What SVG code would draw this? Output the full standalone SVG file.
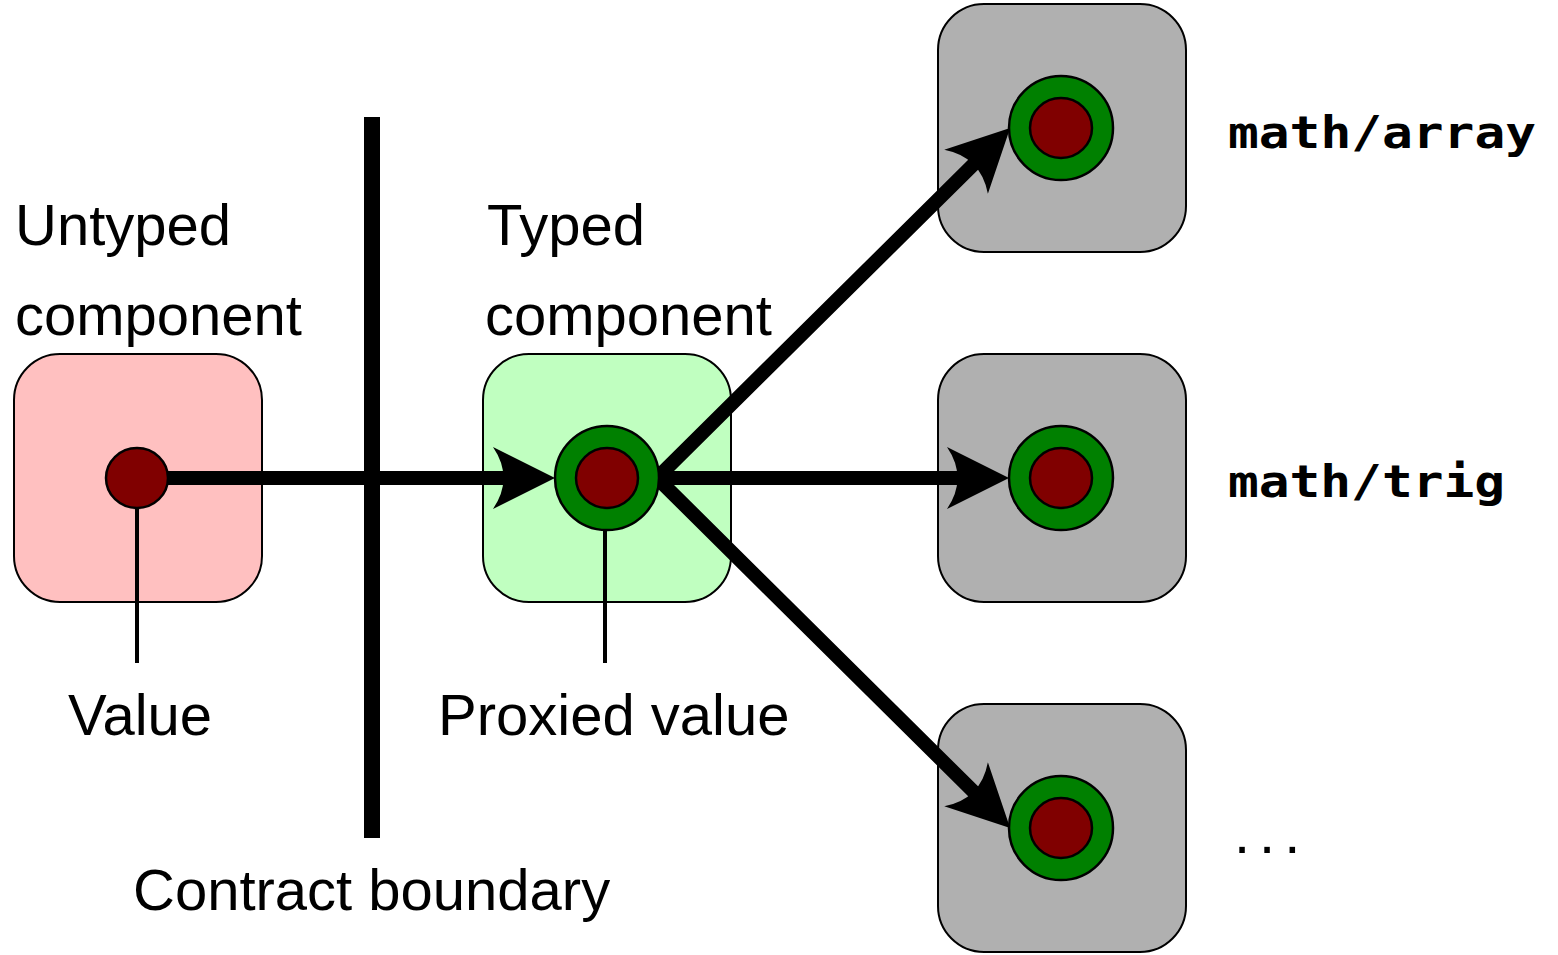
<svg xmlns="http://www.w3.org/2000/svg" width="1558" height="955" viewBox="0 0 1558 955">
  <style>
    .box { stroke: #000; stroke-width: 2; }
    .untyped { fill: #ffc0c0; }
    .typed { fill: #c0ffc0; }
    .client { fill: #b0b0b0; }
    .ring { fill: #008000; stroke: #000; stroke-width: 2.5; }
    .core { fill: #800000; stroke: #000; stroke-width: 2.5; }
    .label { font-family: "Liberation Sans", "DejaVu Sans", sans-serif; font-size: 58px; fill: #000; }
    .module { font-family: "DejaVu Sans Mono", "Liberation Mono", monospace; font-weight: bold; font-size: 45px; fill: #000; }
    .flow { fill: none; stroke: #000; stroke-width: 14; stroke-linecap: round; marker-end: url(#head); }
    .stem { stroke: #000; stroke-width: 4; }
  </style>
  <defs>
    <marker id="head" markerUnits="userSpaceOnUse" markerWidth="70" markerHeight="70" viewBox="0 0 70 70" refX="33" refY="35" orient="auto">
      <path d="M63,35 L1,4 Q22,35 1,66 Z" fill="#000"/>
    </marker>
  </defs>

  <!-- contract boundary bar -->
  <g id="boundary">
    <rect x="364" y="117" width="16" height="721" fill="#000"/>
    <text class="label" x="133" y="910">Contract boundary</text>
  </g>

  <!-- untyped component -->
  <g id="untyped">
    <rect class="box untyped" x="14" y="354" width="248" height="248" rx="46"/>
    <text class="label" x="15" y="245">Untyped</text>
    <text class="label" x="15" y="335">component</text>
  </g>

  <!-- typed component -->
  <g id="typed">
    <rect class="box typed" x="483" y="354" width="248" height="248" rx="46"/>
    <text class="label" x="487" y="245">Typed</text>
    <text class="label" x="485" y="335">component</text>
  </g>

  <!-- client modules -->
  <g id="math-array">
    <rect class="box client" x="938" y="4" width="248" height="248" rx="46"/>
    <circle class="ring" cx="1061" cy="128" r="52"/>
    <ellipse class="core" cx="1061" cy="128" rx="31" ry="30"/>
    <text class="module" x="1228" y="148" textLength="308" lengthAdjust="spacingAndGlyphs">math/array</text>
  </g>
  <g id="math-trig">
    <rect class="box client" x="938" y="354" width="248" height="248" rx="46"/>
    <circle class="ring" cx="1061" cy="478" r="52"/>
    <ellipse class="core" cx="1061" cy="478" rx="31" ry="30"/>
    <text class="module" x="1228" y="497" textLength="277" lengthAdjust="spacingAndGlyphs">math/trig</text>
  </g>
  <g id="more">
    <rect class="box client" x="938" y="704" width="248" height="248" rx="46"/>
    <circle class="ring" cx="1061" cy="828" r="52"/>
    <ellipse class="core" cx="1061" cy="828" rx="31" ry="30"/>
    <text class="label" x="1234" y="853" font-size="80" letter-spacing="9">...</text>
  </g>

  <!-- value stems and labels -->
  <g id="value-label">
    <line class="stem" x1="137" y1="506" x2="137" y2="663"/>
    <text class="label" x="68" y="735">Value</text>
  </g>
  <g id="proxied-label">
    <line class="stem" x1="605" y1="528" x2="605" y2="663"/>
    <text class="label" x="438" y="735">Proxied value</text>
  </g>

  <!-- connectors -->
  <g id="connectors">
    <path class="flow" d="M165,478 H525"/>
    <path class="flow" d="M657,478 L988.8,149.2"/>
    <path class="flow" d="M657,478 H979"/>
    <path class="flow" d="M657,478 L988.8,806.8"/>
  </g>

  <!-- values drawn over the connector ends -->
  <g id="value">
    <ellipse class="core" cx="137" cy="478" rx="31" ry="30"/>
  </g>
  <g id="proxied-value">
    <circle class="ring" cx="607" cy="478" r="52"/>
    <ellipse class="core" cx="607" cy="478" rx="31" ry="30"/>
  </g>
</svg>
